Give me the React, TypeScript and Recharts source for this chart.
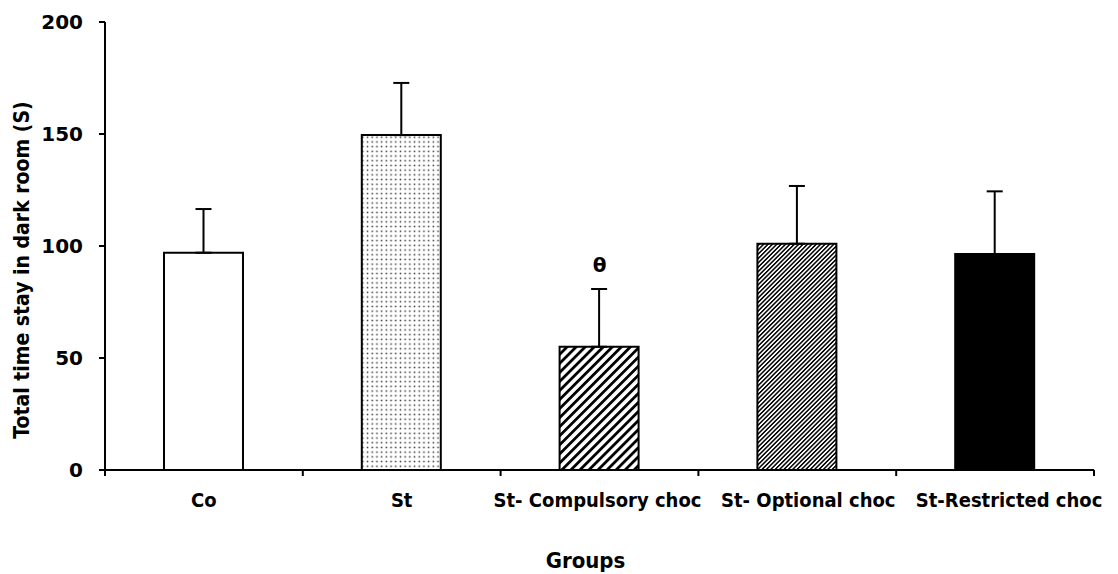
import React from "react";
import { ComposedChart, Bar, XAxis, YAxis, ErrorBar, Cell, Scatter } from "recharts";

// data
const groups = ["Co", "St", "St- Compulsory choc", "St- Optional choc", "St-Restricted choc"];
const means = [97, 149.5, 55, 101, 96.4];
const errors = [19.5, 23.3, 25.8, 25.8, 28];
const marks = ["", "", "θ", "", ""];
const markLevels = [null, null, 91.5, null, null];
const yTicks = [0, 50, 100, 150, 200];

// styling
const fills = ["#ffffff", "url(#dots)", "url(#wide)", "url(#fine)", "#000000"];
const labelShift = [0, 0, -2, 11, 14];

const W = 1110;
const H = 566;
const MARGIN = { top: 14, right: 24, left: 0, bottom: 8 };
const Y_W = 97;
const X_H = 96;
const PLOT_W = W - MARGIN.left - MARGIN.right - Y_W;
const HALF_BAND = PLOT_W / groups.length / 2;
const FONT = "'DejaVu Sans Condensed', 'DejaVu Sans', sans-serif";
const NUM_FONT = "'DejaVu Sans', sans-serif";

const rows = groups.map((g, i) => ({
  group: g,
  mean: means[i],
  err: [0, errors[i]],
  mark: marks[i],
  markY: markLevels[i],
}));

function GroupTick(props: any) {
  const { x, y, payload, index } = props;
  return (
    <g>
      <line x1={x - HALF_BAND} x2={x - HALF_BAND} y1={y} y2={y + 6} stroke="#000" strokeWidth={2} />
      {index === groups.length - 1 && (
        <line x1={x + HALF_BAND} x2={x + HALF_BAND} y1={y} y2={y + 6} stroke="#000" strokeWidth={2} />
      )}
      <text x={x + (labelShift[index] || 0)} y={y + 37} textAnchor="middle" fontFamily={FONT}
        fontWeight="bold" fontSize={20} fill="#000">
        {payload.value}
      </text>
    </g>
  );
}

function GroupsTitle(props: any) {
  const vb = props.viewBox;
  return (
    <text x={vb.x + vb.width / 2 - 14} y={vb.y + vb.height + 2} textAnchor="middle"
      fontFamily={FONT} fontWeight="bold" fontSize={22} fill="#000">
      Groups
    </text>
  );
}

function YTitle(props: any) {
  const vb = props.viewBox;
  const cy = vb.y + vb.height / 2 + 24;
  return (
    <text transform={`translate(${14},${cy}) rotate(-90)`} textAnchor="middle" dominantBaseline="central"
      fontFamily={FONT} fontWeight="bold" fontSize={21} fill="#000">
      Total time stay in dark room (S)
    </text>
  );
}

function MarkShape(props: any) {
  if (!props.payload || !props.payload.mark) return <g />;
  return (
    <text x={props.cx} y={props.cy} textAnchor="middle" dominantBaseline="central"
      fontFamily={NUM_FONT} fontWeight="bold" fontSize={20} fill="#000">
      {props.payload.mark}
    </text>
  );
}

export default function App() {
  return (
    <div style={{ width: W, height: H, background: "#fff" }}>
      <ComposedChart width={W} height={H} data={rows} margin={MARGIN}>
        <defs>
          <pattern id="dots" width="4.7" height="4.7" patternUnits="userSpaceOnUse">
            <rect width="4.7" height="4.7" fill="#fff" />
            <rect x="1.6" y="1.6" width="1.5" height="1.5" fill="#333" />
          </pattern>
          <pattern id="wide" width="6.4" height="10" patternUnits="userSpaceOnUse" patternTransform="rotate(45)">
            <rect width="6.4" height="10" fill="#fff" />
            <rect width="2.8" height="10" fill="#000" />
          </pattern>
          <pattern id="fine" width="3.1" height="10" patternUnits="userSpaceOnUse" patternTransform="rotate(45)">
            <rect width="3.1" height="10" fill="#fff" />
            <rect width="1.5" height="10" fill="#000" />
          </pattern>
        </defs>
        <XAxis
          dataKey="group"
          type="category"
          height={X_H}
          interval={0}
          tickLine={false}
          tickSize={0}
          tickMargin={0}
          axisLine={{ stroke: "#000", strokeWidth: 2 }}
          tick={<GroupTick />}
          label={<GroupsTitle />}
        />
        <YAxis
          width={Y_W}
          domain={[0, 200]}
          ticks={yTicks}
          tickSize={6}
          tickMargin={16}
          axisLine={{ stroke: "#000", strokeWidth: 2 }}
          tickLine={{ stroke: "#000", strokeWidth: 2 }}
          tick={{ fill: "#000", fontSize: 20, fontWeight: "bold", fontFamily: NUM_FONT }}
          label={<YTitle />}
        />
        <Bar dataKey="mean" barSize={79} stroke="#000" strokeWidth={2} isAnimationActive={false}>
          {rows.map((r, i) => (
            <Cell key={r.group} fill={fills[i]} />
          ))}
          <ErrorBar dataKey="err" width={8} stroke="#000" strokeWidth={2} direction="y" />
        </Bar>
        <Scatter dataKey="markY" shape={<MarkShape />} isAnimationActive={false} legendType="none" />
      </ComposedChart>
    </div>
  );
}
